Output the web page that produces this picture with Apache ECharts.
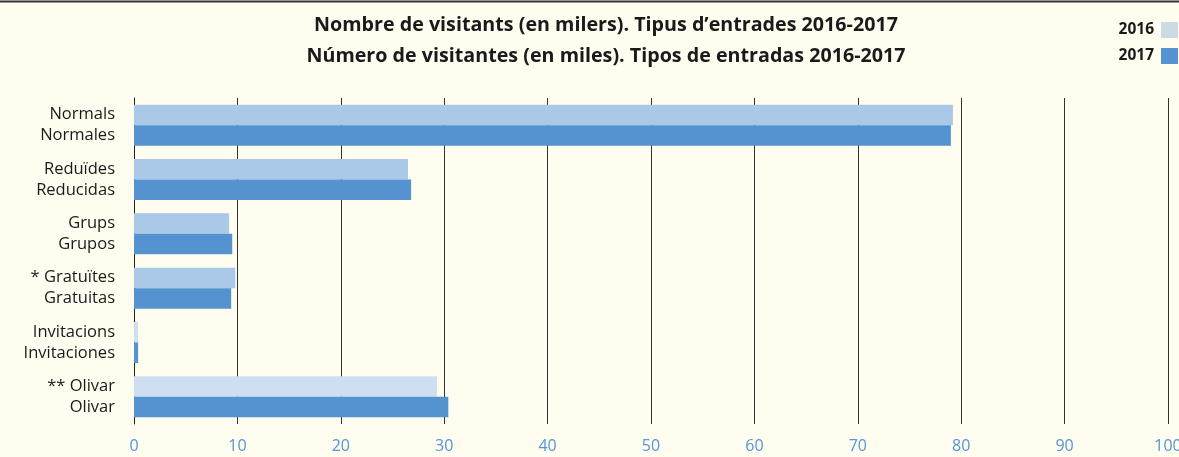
<!DOCTYPE html>
<html>
<head>
<meta charset="utf-8">
<title>Tipus d'entrades 2016-2017</title>
<script src="https://cdn.jsdelivr.net/npm/echarts@6/dist/echarts.min.js"></script>
<style>
  html, body { margin: 0; padding: 0; background: #fffdf0; }
</style>
</head>
<body>
<div id="chart" style="width:1179px;height:457px;"></div>
<script type="text/javascript">
// categories (català / castellano)
var catCa = ['Normals', 'Reduïdes', 'Grups', '* Gratuïtes', 'Invitacions', '** Olivar'];
var catEs = ['Normales', 'Reducidas', 'Grupos', 'Gratuitas', 'Invitaciones', 'Olivar'];
// visitants (milers)
var vals2016 = [79.2, 26.5, 9.2, 9.8, 0.4, 29.3];
var vals2017 = [79.0, 26.8, 9.5, 9.4, 0.4, 30.4];
var xTicks = [0, 10, 20, 30, 40, 50, 60, 70, 80, 90, 100];

var labels = [];
for (var i = 0; i < catCa.length; i++) {
    labels.push(catCa[i] + '\n' + catEs[i]);
}

// the last two 2016 bars are a paler tone in the original
var light = ['#aac8e7', '#aac8e7', '#aac8e7', '#aac8e7', '#cddff1', '#cddff1'];
var data2016 = vals2016.map(function (v, i) {
    return { value: v, itemStyle: { color: light[i] } };
});

var FONT = 'Open Sans';
var chart = echarts.init(document.getElementById('chart'));
var option = {
    backgroundColor: '#fffdf0',
    textStyle: { fontFamily: FONT },
    animation: false,
    title: [{
        text: 'Nombre de visitants (en milers). Tipus d\u2019entrades 2016-2017',
        left: 601, textAlign: 'center', top: 10,
        textStyle: { fontSize: 19.7, fontWeight: 'bold', color: '#1a1a1a', fontFamily: FONT }
    }, {
        text: 'Número de visitantes (en miles). Tipos de entradas 2016-2017',
        left: 601, textAlign: 'center', top: 41,
        textStyle: { fontSize: 19.7, fontWeight: 'bold', color: '#1a1a1a', fontFamily: FONT }
    }],
    legend: {
        orient: 'vertical',
        right: -4, top: 17,
        align: 'right',
        itemWidth: 17, itemHeight: 16, itemGap: 10,
        icon: 'rect',
        textStyle: { fontSize: 15.5, fontWeight: 'bold', color: '#1a1a1a', fontFamily: FONT, padding: [0, 2, 0, 0] },
        data: [
            { name: '2016', itemStyle: { color: '#ccdbe3' } },
            { name: '2017', itemStyle: { color: '#5592d0' } }
        ]
    },
    graphic: [{
        type: 'line',
        shape: { x1: 0, y1: 1.5, x2: 1179, y2: 1.5 },
        style: { stroke: '#333', lineWidth: 2 }
    }],
    grid: { left: 134, right: 11, top: 98, bottom: 33, containLabel: false, outerBoundsMode: 'none' },
    xAxis: {
        type: 'value',
        min: 0, max: 100, interval: 10,
        axisLine: { show: false },
        axisTick: { show: false },
        axisLabel: {
            color: '#5596d4', fontSize: 16, margin: 14, hideOverlap: false,
            formatter: function (v) { return xTicks.indexOf(v) >= 0 ? String(v) : ''; }
        },
        splitLine: { show: true, lineStyle: { color: '#333', width: 1 } }
    },
    yAxis: {
        type: 'category',
        inverse: true,
        data: labels,
        axisLine: { show: true, lineStyle: { color: '#222', width: 1 } },
        axisTick: { show: false },
        axisLabel: { color: '#1a1a1a', fontSize: 16.5, lineHeight: 21, margin: 19, align: 'right' }
    },
    series: [{
        name: '2016',
        type: 'bar',
        barWidth: 20.5,
        barGap: '0%',
        data: data2016,
        itemStyle: { color: '#aac8e7' }
    }, {
        name: '2017',
        type: 'bar',
        barWidth: 20.5,
        barGap: '0%',
        data: vals2017,
        itemStyle: { color: '#5592d0' }
    }]
};
chart.setOption(option);
</script>
</body>
</html>
